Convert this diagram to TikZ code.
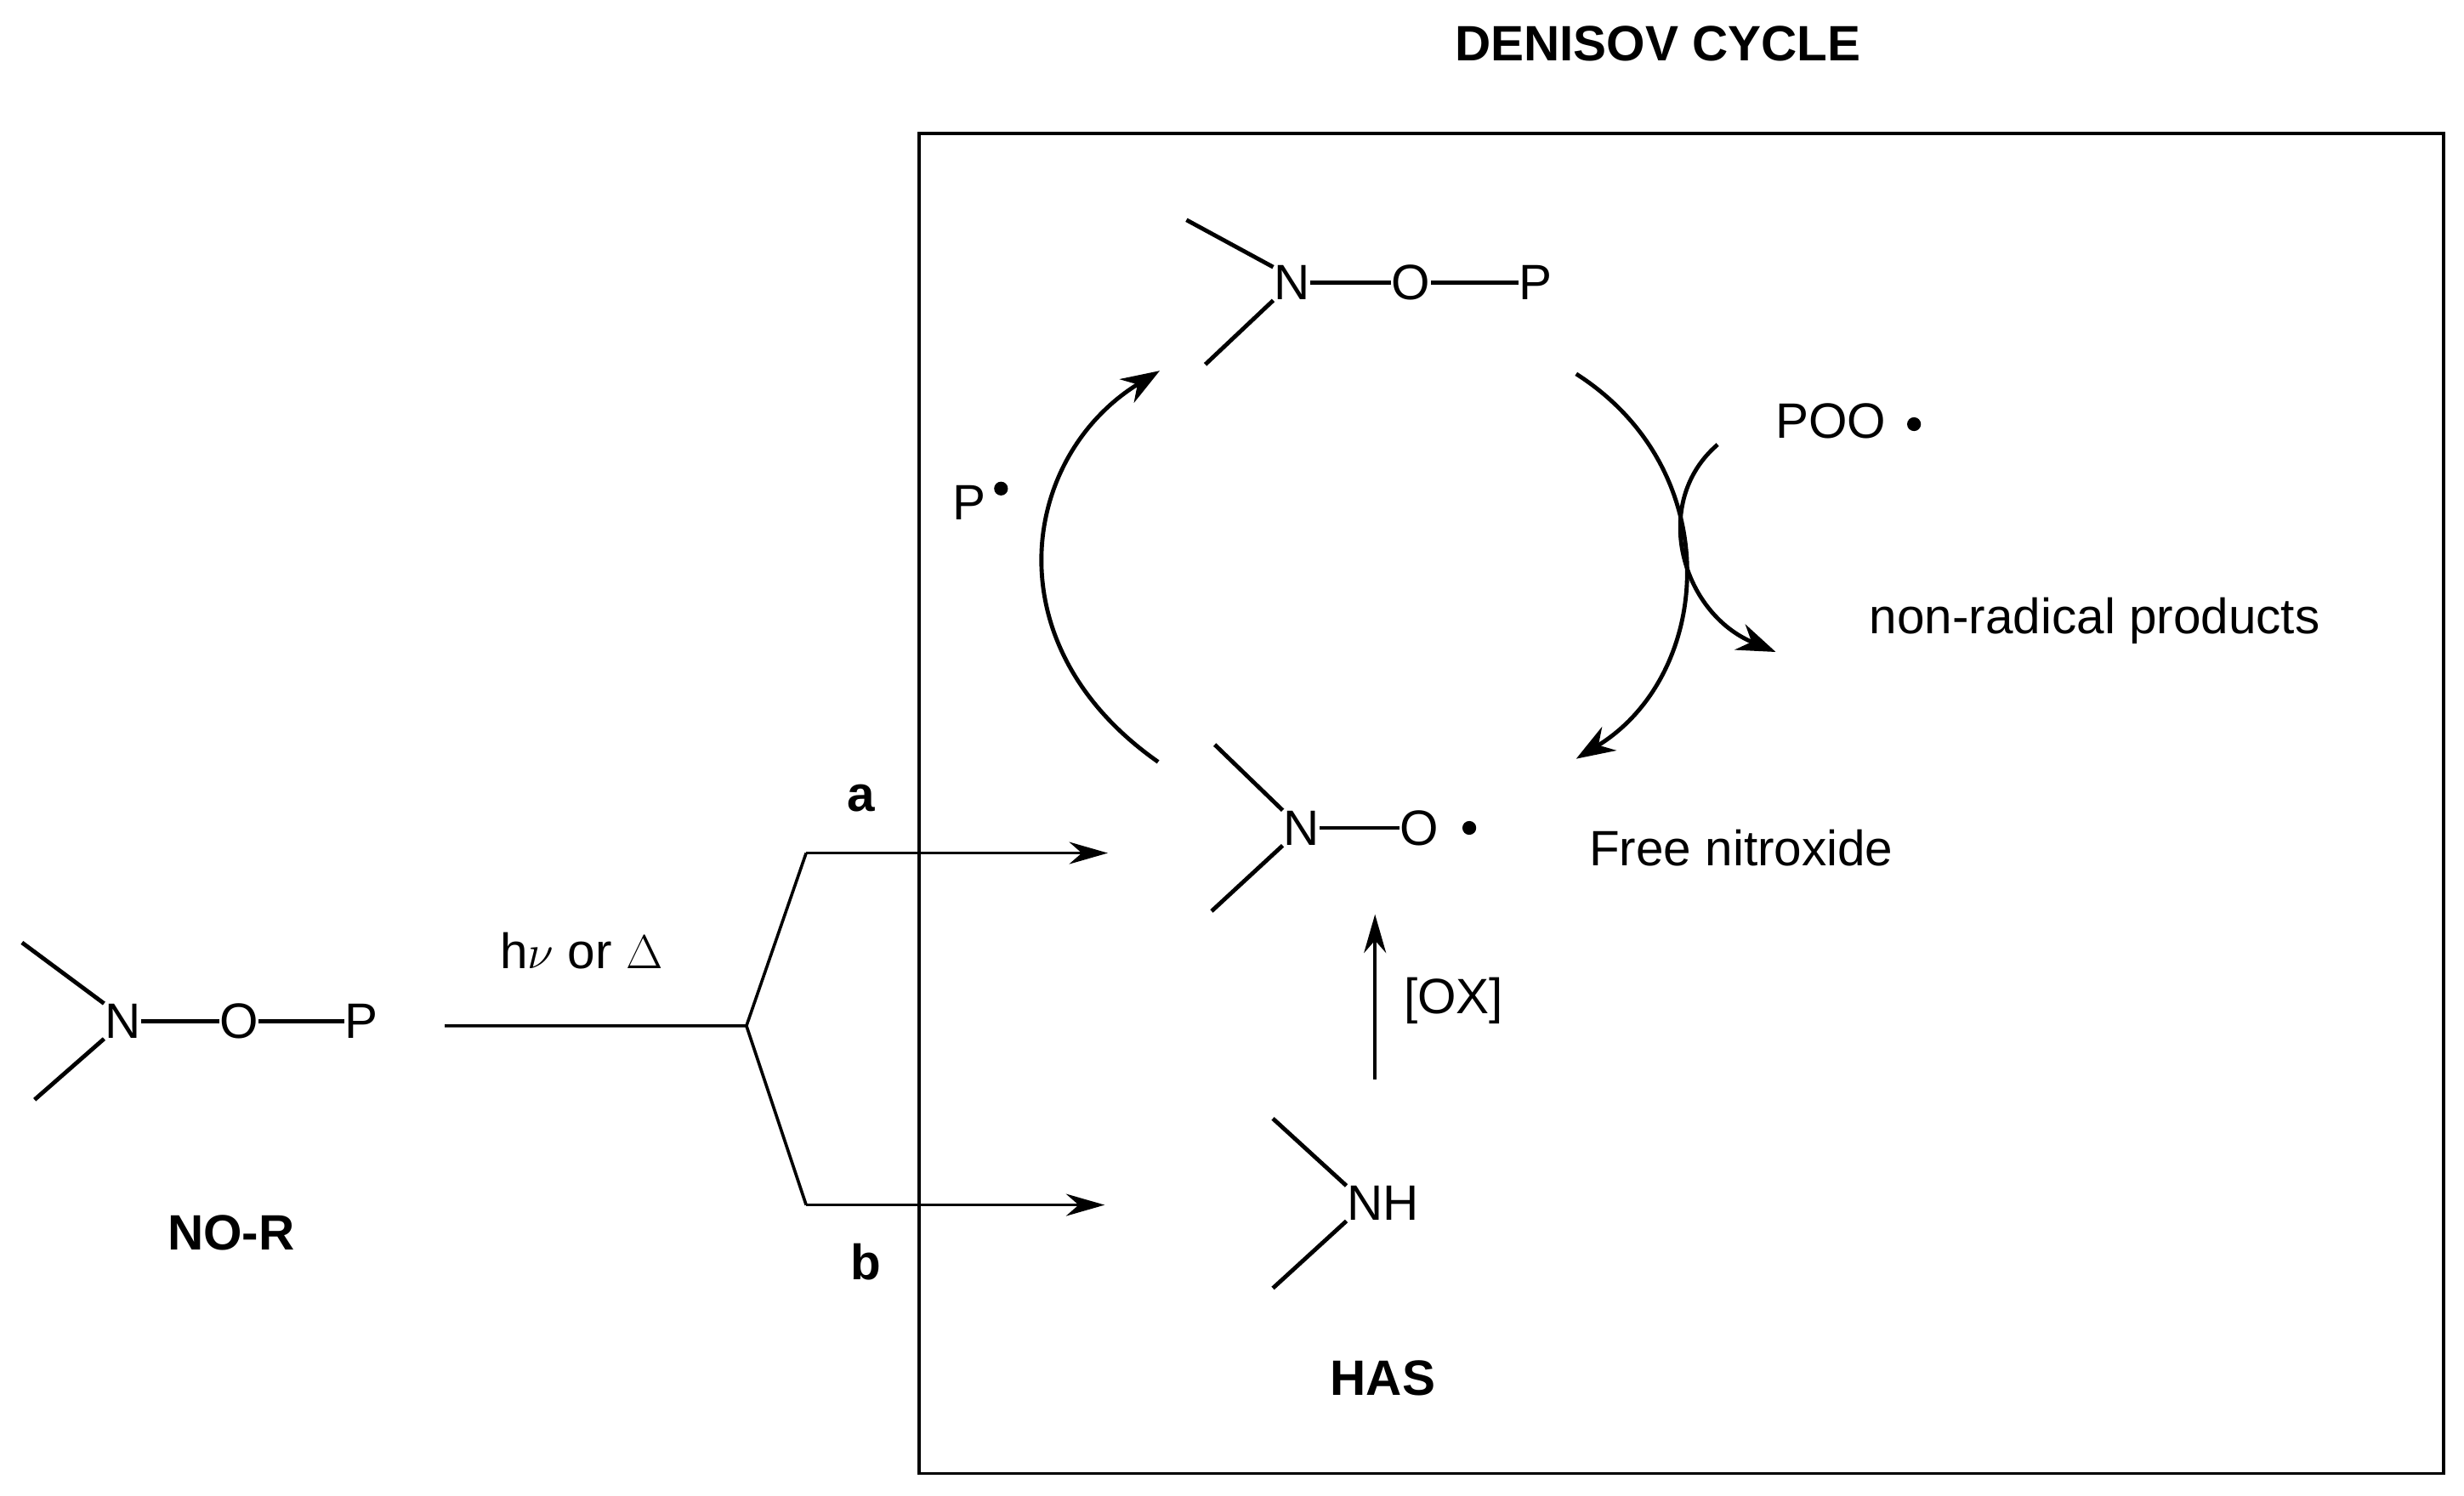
\documentclass[tikz,border=0pt]{standalone}
\usepackage{fontspec}
\setmainfont{Liberation Sans}
\usetikzlibrary{arrows.meta}
\begin{document}
\begin{tikzpicture}[x=0.02cm,y=-0.02cm,
  lbl/.style={inner sep=0pt,font=\fontsize{18}{20}\selectfont},
  bl/.style={inner sep=0pt,font=\fontsize{18}{20}\selectfont\bfseries},
  bond/.style={line width=1.5pt},
  thin/.style={line width=1.1pt},
  arr/.style={line width=1.5pt,-{Stealth[length=14pt,width=10pt]}},
  arrt/.style={line width=1.1pt,-{Stealth[length=14pt,width=8pt]}},
  dot/.style={circle,fill,inner sep=0pt,minimum size=5pt}]
\useasboundingbox (0,0) rectangle (1568,952);
\node[bl] (title) at (1055,28) {DENISOV CYCLE};
\draw[thin] (585,85) rectangle (1555,938);
% top N-O-P
\node[lbl] (tN) at (822,180) {N};
\node[lbl] (tO) at (898,180) {O};
\node[lbl] (tP) at (977,180) {P};
\coordinate (t1) at (755,140); \coordinate (t2) at (767,232);
\draw[bond] (t1) -- (tN.west |- 0,170);
\draw[bond] (t2) -- (tN.south west);
\draw[bond] (tN) -- (tO); \draw[bond] (tO) -- (tP);
% middle N-O.
\node[lbl] (mN) at (828,527) {N};
\node[lbl] (mO) at (903,527) {O};
\node[dot] (mdot) at (935,527) {};
\coordinate (m1) at (773,474); \coordinate (m2) at (771,580);
\draw[bond] (m1) -- (mN.north west);
\draw[bond] (m2) -- (mN.south west);
\draw[bond] (mN) -- (mO);
% NH
\node[lbl] (NH) at (880,766) {NH};
\coordinate (h1) at (810,712); \coordinate (h2) at (810,820);
\draw[bond] (h1) -- (NH.north west);
\draw[bond] (h2) -- (NH.south west);
\node[bl] (HAS) at (880,877) {HAS};
% left N-O-P
\node[lbl] (lN) at (78,650) {N};
\node[lbl] (lO) at (152,650) {O};
\node[lbl] (lP) at (230,650) {P};
\coordinate (l1) at (14,600); \coordinate (l2) at (22,700);
\draw[bond] (l1) -- (lN.north west);
\draw[bond] (l2) -- (lN.south west);
\draw[bond] (lN) -- (lO); \draw[bond] (lO) -- (lP);
\node[bl] (NOR) at (147,785) {NO-R};
% reaction
\node[lbl] (hv) at (370,605) {h$\nu$ or $\Delta$};
\coordinate (s0) at (283,653); \coordinate (s1) at (475,653);
\coordinate (a0) at (513,543); \coordinate (b0) at (513,767);
\coordinate (a1) at (705,543); \coordinate (b1) at (703,767);
\draw[thin] (s0) -- (s1) -- (a0); \draw[thin] (s1) -- (b0);
\draw[arrt] (a0) -- (a1); \draw[arrt] (b0) -- (b1);
\node[bl] (la) at (548,508) {a};
\node[bl] (lb) at (551,803) {b};
% OX
\coordinate (ox0) at (875,687); \coordinate (ox1) at (875,582);
\draw[arrt] (ox0) -- (ox1);
\node[lbl] (ox) at (925,637) {[OX]};
% cycle arcs
\coordinate (c1) at (737,485); \coordinate (c2) at (738,236);
\draw[arr] (c1) .. controls (630,410) and (650,290) .. (c2);
\node[lbl] (Pr) at (617,320) {P};
\node[dot] (Prd) at (637,311) {};
\coordinate (d1) at (1003,238); \coordinate (d2) at (1003,483);
\draw[arr] (d1) .. controls (1100,300) and (1090,430) .. (d2);
\node[lbl] (POO) at (1165,268) {POO};
\node[dot] (POOd) at (1218,270) {};
\coordinate (e1) at (1093,283); \coordinate (e2) at (1130,415);
\draw[arr] (e1) .. controls (1050,320) and (1070,390) .. (e2);
\node[lbl] (nrp) at (1333,395) {non-radical products};
\node[lbl] (fn) at (1108,540) {Free nitroxide};
\end{tikzpicture}
\end{document}
